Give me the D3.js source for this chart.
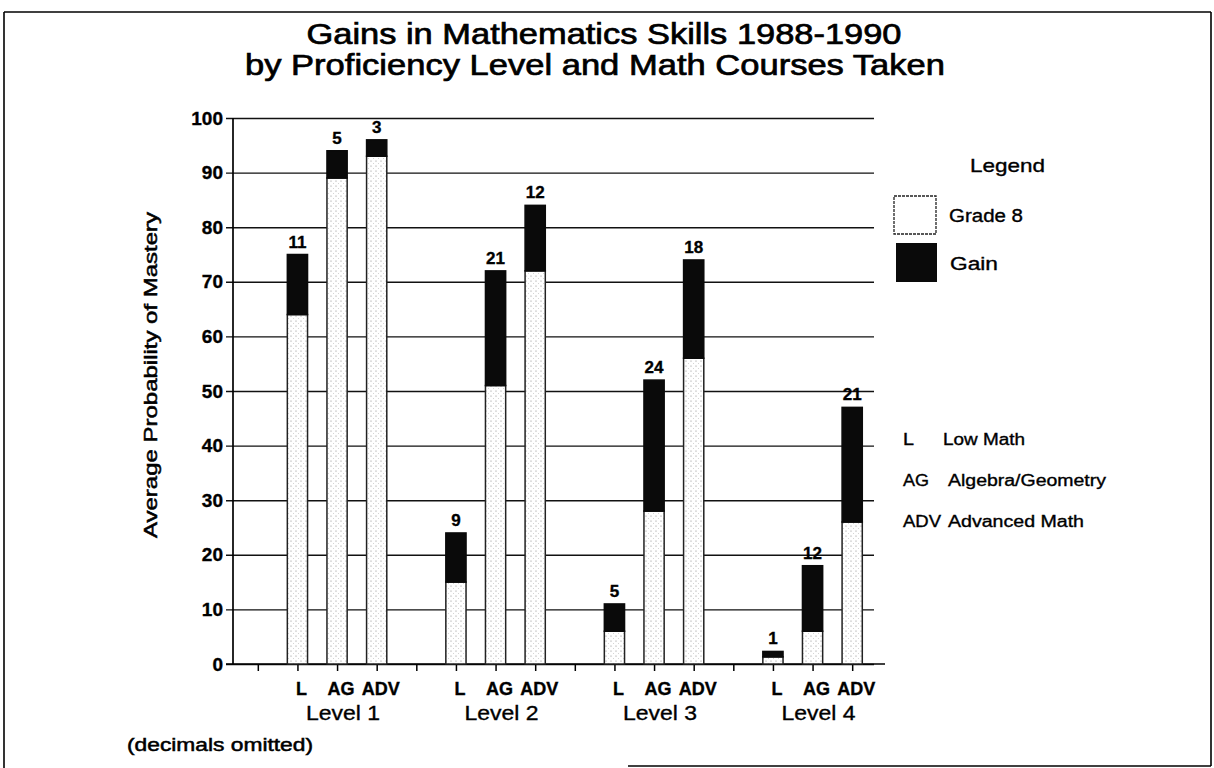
<!DOCTYPE html>
<html>
<head>
<meta charset="utf-8">
<script src="https://cdn.jsdelivr.net/npm/d3@7"></script>
<style>
  html, body { margin: 0; padding: 0; background: #fff; }
  svg { display: block; }
  text { font-family: "Liberation Sans", Arial, Helvetica, sans-serif; fill: #000; stroke: #000; stroke-width: 0.35; }
</style>
</head>
<body>
<svg id="chart" width="1214" height="768"></svg>
<script>
// ---- data ----
const levels = ["Level 1", "Level 2", "Level 3", "Level 4"];
const courses = ["L", "AG", "ADV"];
const courseNames = ["Low Math", "Algebra/Geometry", "Advanced Math"];
// Grade 8 score (bottom segment), per level in course order L, AG, ADV
const grade8 = [64, 89, 93, 15, 51, 72, 6, 28, 56, 1.3, 6, 26];
// Gain 1988-1990 (top segment, also the printed label)
const gain = [11, 5, 3, 9, 21, 12, 5, 24, 18, 1, 12, 21];
const yTicks = [0, 10, 20, 30, 40, 50, 60, 70, 80, 90, 100];
const seriesNames = ["Grade 8", "Gain"];
const titleLines = ["Gains in Mathematics Skills 1988-1990", "by Proficiency Level and Math Courses Taken"];
const yTitle = "Average Probability of Mastery";
const footnote = "(decimals omitted)";

// ---- build rows ----
const rows = [];
levels.forEach((lv, i) => courses.forEach((c, j) => {
  const k = i * 3 + j;
  rows.push({ level: lv, course: c, g8: grade8[k], gain: gain[k] });
}));

const svg = d3.select("#chart");
const font = "'Liberation Sans', Arial, Helvetica, sans-serif";

function txt(g, s, x, y, o = {}) {
  const t = g.append("text").attr("x", x).attr("y", y).text(s)
    .attr("font-size", o.size || 16)
    .attr("font-weight", o.weight || "normal")
    .attr("text-anchor", o.anchor || "start");
  if (o.len) t.attr("textLength", o.len).attr("lengthAdjust", "spacingAndGlyphs");
  if (o.transform) t.attr("transform", o.transform);
  if (o.stroke !== undefined) t.style("stroke-width", o.stroke);
  return t;
}

// ---- pattern ----
const defs = svg.append("defs");
const pat = defs.append("pattern").attr("id", "dots")
  .attr("width", 5).attr("height", 5).attr("patternUnits", "userSpaceOnUse");
pat.append("rect").attr("width", 5).attr("height", 5).attr("fill", "#fff");
pat.append("circle").attr("cx", 1).attr("cy", 1).attr("r", 0.6).attr("fill", "#888");
pat.append("circle").attr("cx", 3.5).attr("cy", 3.5).attr("r", 0.45).attr("fill", "#aaa");

// ---- frame ----
const frame = svg.append("g").attr("stroke", "#000").attr("stroke-width", 1.6);
frame.append("line").attr("x1", 4).attr("x2", 1211).attr("y1", 12).attr("y2", 12);
frame.append("line").attr("x1", 4).attr("x2", 4).attr("y1", 12).attr("y2", 768);
frame.append("line").attr("x1", 1211).attr("x2", 1211).attr("y1", 12).attr("y2", 766);
frame.append("line").attr("x1", 628).attr("x2", 1211).attr("y1", 766).attr("y2", 766);

// ---- scales ----
const plotLeft = 233, gridLeft = 226, gridRight = 874, baseRight = 885;
const y = d3.scaleLinear().domain([0, 100]).range([664, 118]);
const x0 = d3.scaleBand().domain(levels).range([238, 872]);
const x1 = d3.scaleBand().domain(["gap", ...courses]).range([0, x0.bandwidth()]);
const barW = x1.bandwidth() * 0.51;
const cx = (lv, c) => x0(lv) + x1(c) + x1.bandwidth() / 2;

// ---- gridlines + y labels ----
const yAxis = d3.axisLeft(y).tickValues(yTicks)
  .tickSizeInner(-(gridRight - gridLeft)).tickSizeOuter(0).tickPadding(3);
const gy = svg.append("g").attr("transform", `translate(${gridLeft},0)`).call(yAxis);
gy.select(".domain").remove();
gy.selectAll(".tick line").attr("stroke", "#111").attr("stroke-width", 1.4);
gy.selectAll(".tick text").attr("font-family", font).attr("font-size", 19)
  .attr("font-weight", "bold").attr("fill", "#000");

// vertical axis line
svg.append("line").attr("x1", plotLeft).attr("x2", plotLeft)
  .attr("y1", y(100)).attr("y2", y(0)).attr("stroke", "#000").attr("stroke-width", 1.7);

// ---- x axis ticks ----
const slotKeys = [];
levels.forEach(lv => ["gap", ...courses].forEach(c => slotKeys.push(lv + "|" + c)));
const xp = d3.scalePoint().domain(slotKeys)
  .range([cx(levels[0], "gap"), cx(levels[3], "ADV")]);
const xAxis = d3.axisBottom(xp).tickSizeInner(7).tickSizeOuter(0).tickFormat("");
const gx = svg.append("g").attr("transform", `translate(0,${y(0)})`).call(xAxis);
gx.select(".domain").remove();
gx.selectAll(".tick line").attr("stroke", "#000").attr("stroke-width", 1.5);
svg.append("line").attr("x1", gridLeft).attr("x2", baseRight)
  .attr("y1", y(0)).attr("y2", y(0)).attr("stroke", "#000").attr("stroke-width", 1.7);

// ---- bars ----
const bars = svg.append("g");
bars.selectAll("rect.g8").data(rows).join("rect").attr("class", "g8")
  .attr("x", d => cx(d.level, d.course) - barW / 2)
  .attr("width", barW)
  .attr("y", d => y(d.g8))
  .attr("height", d => y(0) - y(d.g8))
  .attr("fill", "url(#dots)").attr("stroke", "#222").attr("stroke-width", 1.5);
bars.selectAll("rect.gain").data(rows).join("rect").attr("class", "gain")
  .attr("x", d => cx(d.level, d.course) - barW / 2)
  .attr("width", barW)
  .attr("y", d => y(d.g8 + d.gain))
  .attr("height", d => y(d.g8) - y(d.g8 + d.gain))
  .attr("fill", "#0a0a0a").attr("stroke", "#0a0a0a").attr("stroke-width", 1.5);
bars.selectAll("text.val").data(rows).join("text").attr("class", "val")
  .attr("x", d => cx(d.level, d.course))
  .attr("y", d => y(d.g8 + d.gain) - 7)
  .attr("text-anchor", "middle").attr("font-size", 17).attr("font-weight", "bold")
  .text(d => d.gain);

// ---- x labels ----
const xl = svg.append("g");
levels.forEach(lv => {
  courses.forEach(c => {
    txt(xl, c, cx(lv, c) + 4, 695, { size: 18, weight: "bold", anchor: "middle" });
  });
  txt(xl, lv, cx(lv, "AG") + 6, 720, { size: 21, anchor: "middle", len: 74 });
});

// ---- titles ----
txt(svg, titleLines[0], 604, 44, { size: 29, anchor: "middle", len: 595, stroke: 0.7 });
txt(svg, titleLines[1], 595, 75, { size: 29, anchor: "middle", len: 700, stroke: 0.7 });
txt(svg, yTitle, 0, 0, { size: 18, anchor: "middle", len: 326, transform: "translate(157,375) rotate(-90)", stroke: 0.5 });
txt(svg, footnote, 127, 751, { size: 18, len: 186, stroke: 0.5 });

// ---- legend ----
const lg = svg.append("g");
txt(lg, "Legend", 970, 172, { size: 19, len: 75 });
lg.append("rect").attr("x", 894).attr("y", 196).attr("width", 42).attr("height", 38)
  .attr("fill", "#fff").attr("stroke", "#222").attr("stroke-width", 1.3).attr("stroke-dasharray", "3,1");
lg.append("rect").attr("x", 896).attr("y", 243).attr("width", 41).attr("height", 39)
  .attr("fill", "#0a0a0a");
txt(lg, seriesNames[0], 949, 222, { size: 18, len: 74 });
txt(lg, seriesNames[1], 950, 270, { size: 18, len: 48 });

const codeLens = [11, 26, 38];
const nameLens = [82, 158, 136];
const nameX = [943, 948, 948];
courses.forEach((c, i) => {
  const by = 445 + i * 41;
  txt(lg, c, 903, by, { size: 16, len: codeLens[i] });
  txt(lg, courseNames[i], nameX[i], by, { size: 16, len: nameLens[i] });
});
</script>
</body>
</html>
